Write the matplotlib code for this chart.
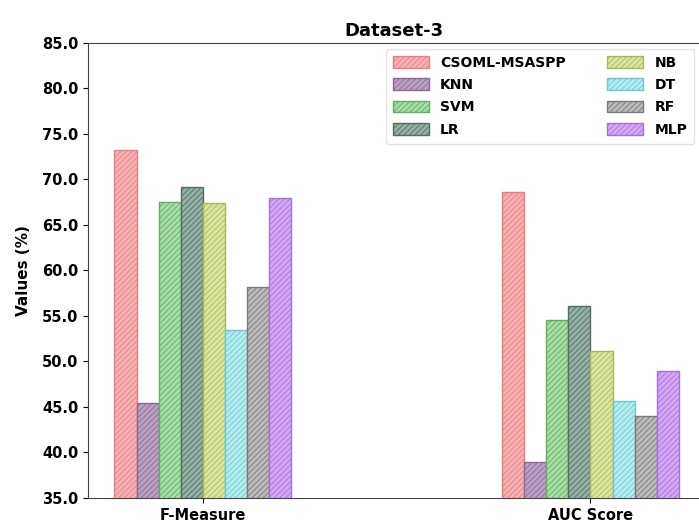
import matplotlib
matplotlib.use("Agg")
import matplotlib.pyplot as plt
import numpy as np

plt.rcParams['hatch.linewidth'] = 0.6

metrics = ["F-Measure", "AUC Score"]
models = ["CSOML-MSASPP", "KNN", "SVM", "LR", "NB", "DT", "RF", "MLP"]
f_measure = [73.2, 45.4, 67.5, 69.2, 67.4, 53.4, 58.2, 67.9]
auc_score = [68.6, 38.9, 54.5, 56.1, 51.1, 45.7, 44.0, 49.0]
face_colors = ["#f8b0b2", "#bca0c4", "#a6dea6", "#95b0a6", "#dbe59f", "#b4ecf1", "#bababa", "#d5a8f7"]
edge_colors = ["#e08286", "#8a6a92", "#64ad64", "#52705f", "#a9b85e", "#72c5cd", "#7a7a7a", "#a870d6"]

values = np.array([f_measure, auc_score])  # shape (metrics, models)

fig = plt.figure(figsize=(6.99, 5.22), dpi=100)
ax = fig.add_axes([0.126, 0.046, 0.874, 0.872])

x = np.arange(len(metrics))
width = 0.057
n = len(models)
for i, (m, fc, ec) in enumerate(zip(models, face_colors, edge_colors)):
    offs = (i - (n - 1) / 2) * width
    ax.bar(x + offs, values[:, i], width, label=m,
           facecolor=fc, edgecolor=ec, hatch="//////", linewidth=1.0)

ax.set_ylim(35, 85)
ax.set_xlim(-0.296, 1.28)
yt = np.arange(35, 86, 5)
ax.set_yticks(yt)
ax.set_yticklabels([f"{v:.1f}" for v in yt], fontweight="bold", fontsize=10.5)
ax.set_xticks(x)
ax.set_xticklabels(metrics, fontweight="bold", fontsize=10.5)
ax.set_ylabel("Values (%)", fontweight="bold", fontsize=11, labelpad=8)
ax.set_title("Dataset-3", fontweight="bold", fontsize=13, pad=5)
ax.spines['right'].set_visible(False)
for s in ['left', 'bottom', 'top']:
    ax.spines[s].set_color("#444444")

leg = ax.legend(ncol=2, loc="upper right", bbox_to_anchor=(0.997, 0.993),
                prop={"weight": "bold", "size": 10}, frameon=True,
                handlelength=2.6, handleheight=0.9, columnspacing=3.0,
                labelspacing=0.6, borderpad=0.5, borderaxespad=0.2)
leg.get_frame().set_edgecolor("#dddddd")

fig.savefig("out.png", dpi=100)
